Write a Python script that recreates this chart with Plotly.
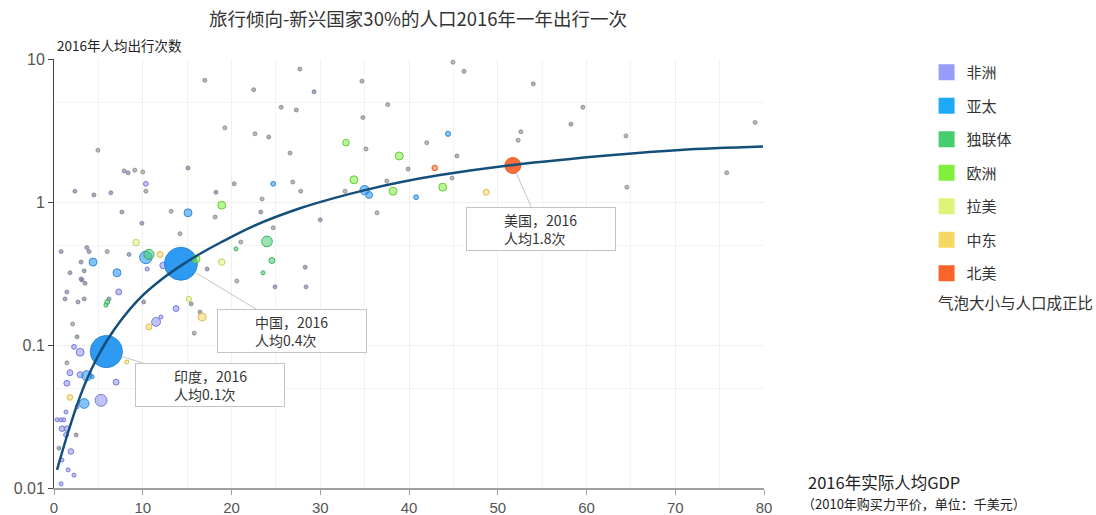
import math
import plotly.graph_objects as go

# ---- data -----------------------------------------------------------------
regions = ["非洲", "亚太", "独联体", "欧洲", "拉美", "中东", "北美"]

# 非洲
af_gdp = [7.9, 8.35, 10.35, 2.35, 4.5, 6.4, 18.25, 30.0, 7.65, 9.9, 0.8, 3.7, 3.95, 8.45, 3.05, 1.8, 3.4,
          3.15, 3.05, 3.5, 10.5, 12.3, 17.25, 28.3, 24.9, 28.4, 23.3, 7.3, 1.45, 1.25, 2.7, 3.4, 6.2, 10.1,
          13.75, 16.45, 12.05, 11.5, 2.25, 2.95, 1.8, 2.95, 7.0, 1.45, 5.3, 2.6, 1.35, 1.1, 0.8, 0.35, 0.9,
          1.45, 1.35, 2.5, 0.56, 1.9, 0.9, 1.6, 2.25, 0.8]
af_trips = [1.65, 1.60, 1.34, 1.19, 1.12, 1.16, 1.17, 0.75, 0.85, 0.71, 0.45, 0.48, 0.45, 0.43, 0.38, 0.32,
            0.33, 0.285, 0.29, 0.27, 0.34, 0.36, 0.34, 0.35, 0.255, 0.255, 0.85, 0.235, 0.235, 0.21, 0.20,
            0.21, 0.21, 0.20, 0.18, 0.17, 0.157, 0.145, 0.097, 0.089, 0.064, 0.062, 0.055, 0.054, 0.041,
            0.037, 0.034, 0.030, 0.030, 0.030, 0.026, 0.026, 0.0235, 0.0235, 0.019, 0.018, 0.0157, 0.0134,
            0.0123, 0.0107]
af_pop = [4, 4, 30, 4, 4, 4, 8, 4, 4, 4, 4, 4, 4, 4, 4, 4, 4, 4, 4, 4, 20, 55, 4, 4, 4, 4, 4, 45, 4, 4, 4,
          4, 4, 4, 45, 5, 15, 100, 30, 80, 45, 45, 45, 45, 180, 20, 20, 20, 20, 10, 40, 40, 30, 4, 4, 40,
          20, 15, 15, 20]

# 亚太
ap_gdp = [15.1, 24.7, 29.3, 44.4, 35.0, 35.5, 40.8, 15.1, 10.35, 4.4, 7.1, 3.7, 4.3, 3.4, 5.9, 14.3]
ap_trips = [1.73, 1.34, 5.9, 3.0, 1.21, 1.12, 1.08, 0.84, 0.41, 0.38, 0.32, 0.061, 0.060, 0.039, 0.09, 0.37]
ap_pop = [4, 30, 4, 35, 110, 60, 30, 80, 200, 80, 80, 130, 20, 120, 1320, 1380]

# 独联体
cis_gdp = [10.7, 20.5, 24.0, 24.55, 23.55, 6.0, 5.85, 15.45, 2.6]
cis_trips = [0.43, 0.47, 0.53, 0.39, 0.32, 0.20, 0.19, 0.194, 0.114]
cis_pop = [130, 20, 145, 45, 20, 30, 20, 6, 6]

# 欧洲
eu_gdp = [17.0, 22.5, 27.7, 25.6, 27.3, 24.2, 26.6, 20.3, 18.9, 34.8, 46.2, 54.0, 32.9, 38.9, 45.4, 39.9,
          33.8, 38.2, 43.8, 58.25, 16.0]
eu_trips = [7.1, 6.1, 8.5, 4.6, 4.4, 2.85, 2.2, 1.34, 0.95, 3.9, 8.2, 6.7, 2.6, 2.1, 2.1, 1.70, 1.43, 1.19,
            1.27, 3.5, 0.40]
eu_pop = [4, 4, 4, 4, 4, 4, 4, 4, 80, 4, 4, 4, 55, 80, 4, 4, 80, 80, 80, 4, 80]

# 拉美
la_gdp = [22.65, 4.95, 9.1, 10.0, 10.35, 23.45, 44.95, 35.15, 52.3, 44.85, 37.5, 32.8, 36.4, 64.45, 13.2,
          14.2, 9.25, 6.0, 18.9, 21.05, 20.6, 24.7, 15.2, 15.8, 2.1, 1.45]
la_trips = [3.0, 2.3, 1.67, 1.62, 1.19, 1.05, 9.5, 2.35, 2.7, 1.47, 1.40, 1.19, 0.84, 2.9, 0.86, 0.60, 0.52,
            0.45, 0.38, 0.525, 0.28, 0.66, 0.21, 0.121, 0.14, 0.075]
la_pop = [4, 4, 4, 4, 4, 4, 4, 4, 4, 4, 4, 4, 4, 4, 4, 4, 55, 4, 55, 4, 4, 4, 35, 6, 4, 4]

# 中东
me_gdp = [19.25, 26.9, 27.8, 34.7, 37.6, 42.0, 52.6, 48.7, 75.8, 64.55, 79.0, 59.6, 18.15, 11.95, 16.7,
          10.7, 1.8, 8.2]
me_trips = [3.3, 1.38, 1.19, 7.0, 4.8, 2.6, 3.1, 1.17, 1.6, 1.27, 3.6, 4.6, 0.785, 0.43, 0.157, 0.134,
            0.043, 0.076]
me_pop = [4, 4, 4, 4, 4, 4, 4, 45, 4, 4, 4, 4, 4, 45, 80, 45, 40, 15]

# 北美
na_gdp = [42.9, 51.7]
na_trips = [1.73, 1.8]
na_pop = [40, 323]

# 趋势线
trend_gdp = [0.34, 1.46, 2.59, 3.72, 4.85, 5.97, 7.55, 9.80, 12.39, 14.31, 16.56, 18.82, 22.54, 27.72,
             31.44, 35.27, 38.99, 43.49, 51.72, 62.99, 70.54, 79.89]
trend_trips = [0.0134, 0.0231, 0.0380, 0.0578, 0.0811, 0.1075, 0.149, 0.216, 0.296, 0.359, 0.438, 0.523,
               0.682, 0.904, 1.060, 1.221, 1.373, 1.542, 1.817, 2.135, 2.314, 2.440]

# 标注
callout_names = ["印度", "中国", "美国"]
callout_gdp = [5.9, 14.3, 51.7]
callout_trips = [0.09, 0.37, 1.8]
callout_year = 2016

x_ticks = [0, 10, 20, 30, 40, 50, 60, 70, 80]
y_ticks = [0.01, 0.1, 1, 10]
y_tick_text = ["0.01", "0.1", "1", "10"]

# ---- styling ---------------------------------------------------------------
fill_colors = {
    "非洲": (140, 146, 240), "亚太": (30, 146, 240), "独联体": (70, 205, 110),
    "欧洲": (128, 240, 60), "拉美": (220, 245, 120), "中东": (245, 215, 100), "北美": (250, 100, 40),
}
legend_colors = {
    "非洲": "#969cf8", "亚太": "#1ea8f8", "独联体": "#46cd6e", "欧洲": "#80f03c",
    "拉美": "#dcf578", "中东": "#f5d764", "北美": "#fa6428",
}
edge_colors = {
    "非洲": "rgba(110,112,210,0.9)", "亚太": "rgba(35,130,215,0.9)", "独联体": "rgba(45,170,90,0.9)",
    "欧洲": "rgba(95,195,45,0.9)", "拉美": "rgba(185,205,90,0.9)", "中东": "rgba(215,180,70,0.9)",
    "北美": "rgba(230,90,30,0.95)",
}
series = {
    "非洲": (af_gdp, af_trips, af_pop), "亚太": (ap_gdp, ap_trips, ap_pop),
    "独联体": (cis_gdp, cis_trips, cis_pop), "欧洲": (eu_gdp, eu_trips, eu_pop),
    "拉美": (la_gdp, la_trips, la_pop), "中东": (me_gdp, me_trips, me_pop), "北美": (na_gdp, na_trips, na_pop),
}

CJK = "Noto Sans CJK SC, Microsoft YaHei, sans-serif"
NUM = "Liberation Sans Narrow, Arial Narrow, Liberation Sans, sans-serif"
SIZEREF = 2.54


def fill_for(rgb, pop):
    r, g, b = rgb
    if pop < 10:
        # very small populations: muted dot
        r, g, b = (r + 2 * 125) // 3, (g + 2 * 125) // 3, (b + 2 * 135) // 3
        return f"rgba({r},{g},{b},0.7)"
    if pop > 250:
        return f"rgba({r},{g},{b},0.93)"
    return f"rgba({r},{g},{b},0.55)"


fig = go.Figure()

for name in regions:
    gx, gy, gp = series[name]
    fills = [fill_for(fill_colors[name], p) for p in gp]
    edges = ["rgba(120,120,135,0.7)" if p < 10 else edge_colors[name] for p in gp]
    fig.add_trace(go.Scatter(
        x=gx, y=gy, mode="markers", name=name, showlegend=False, hoverinfo="skip",
        marker=dict(size=gp, sizemode="area", sizeref=SIZEREF, sizemin=2, opacity=1,
                    color=fills, line=dict(color=edges, width=1)),
    ))

# legend swatches
for name in regions:
    fig.add_trace(go.Scatter(
        x=[None], y=[None], mode="markers", name=name, legendgroup=name, showlegend=True,
        marker=dict(symbol="square", size=16, color=legend_colors[name], line=dict(width=0)),
    ))

fig.add_trace(go.Scatter(
    x=trend_gdp, y=trend_trips, mode="lines", showlegend=False, hoverinfo="skip",
    line=dict(color="#144f7c", width=2.5, shape="spline", smoothing=1.0),
))

# callout boxes: offset of box centre from the bubble in px
box_offsets = [(104, 33), (111, 67), (28, 63)]
standoffs = [16, 17, 8]
annotations = []
for name, gx, gy, (ax, ay), so in zip(callout_names, callout_gdp, callout_trips, box_offsets, standoffs):
    annotations.append(dict(
        x=gx, y=math.log10(gy), xref="x", yref="y", ax=ax, ay=ay,
        text="&nbsp;", showarrow=True, arrowhead=0, arrowwidth=1, arrowcolor="#c4c4c4", standoff=so,
        width=148, height=42, bgcolor="white", bordercolor="#c4c4c4", borderwidth=1, borderpad=0,
    ))
    annotations.append(dict(
        x=gx, y=math.log10(gy), xref="x", yref="y", xshift=ax, yshift=-ay,
        showarrow=False, align="left",
        text=f"{name}，{callout_year}<br>人均{gy:.1f}次",
        font=dict(family=CJK, size=14, color="#333"),
    ))

annotations += [
    dict(text="2016年人均出行次数", xref="paper", yref="paper", x=0.0014, y=1.0326,
         xanchor="left", yanchor="middle", showarrow=False, font=dict(family=CJK, size=13.5, color="#222")),
    dict(text="2016年实际人均GDP", xref="paper", yref="paper", x=1.0605, y=(488 - 495) / 429,
         xanchor="left", yanchor="bottom", borderpad=0, showarrow=False,
         font=dict(family=CJK, size=16.5, color="#222")),
    dict(text="（2010年购买力平价，单位：千美元）", xref="paper", yref="paper", x=1.052, y=(488 - 514) / 429,
         xanchor="left", yanchor="bottom", borderpad=0, showarrow=False,
         font=dict(family=CJK, size=13, color="#222")),
    dict(text="气泡大小与人口成正比", xref="paper", yref="paper", x=1.2423, y=0.4336,
         xanchor="left", yanchor="middle", showarrow=False, font=dict(family=CJK, size=15.5, color="#333")),
]

fig.update_layout(
    width=1096, height=515,
    margin=dict(l=54, r=332, t=59, b=27, autoexpand=False),
    paper_bgcolor="white", plot_bgcolor="white",
    title=dict(text="旅行倾向-新兴国家30%的人口2016年一年出行一次", x=418 / 1096, xref="container",
               xanchor="center", y=1 - 20 / 515, yanchor="middle",
               font=dict(family=CJK, size=18.5, color="#333")),
    legend=dict(x=1.229, y=1.007, xanchor="left", yanchor="top", tracegroupgap=11,
                font=dict(family=CJK, size=15, color="#333"), bgcolor="rgba(0,0,0,0)",
                itemclick=False),
    annotations=annotations,
    showlegend=True,
)
fig.update_xaxes(
    range=[0, 80], tickvals=x_ticks, showgrid=True, gridcolor="#f0f0f0", gridwidth=1, automargin=False,
    minor=dict(dtick=5, showgrid=True, gridcolor="#f3f3f3", ticks=""),
    showline=True, linecolor="#a0a0a0", linewidth=2, ticks="outside", ticklen=5, tickcolor="#a0a0a0",
    tickfont=dict(family=NUM, size=15, color="#555"), zeroline=False,
)
fig.update_yaxes(
    type="log", range=[-2, 1], tickvals=y_ticks, ticktext=y_tick_text, showgrid=True, automargin=False,
    gridcolor="#f0f0f0", minor=dict(tickvals=[0.05, 0.5, 5], showgrid=True, gridcolor="#f3f3f3", ticks=""),
    showline=True, linecolor="#444", linewidth=1, ticks="outside", ticklen=5, tickcolor="#444",
    tickfont=dict(family=NUM, size=16, color="#555"), zeroline=False,
)

fig.write_html("out.html")
